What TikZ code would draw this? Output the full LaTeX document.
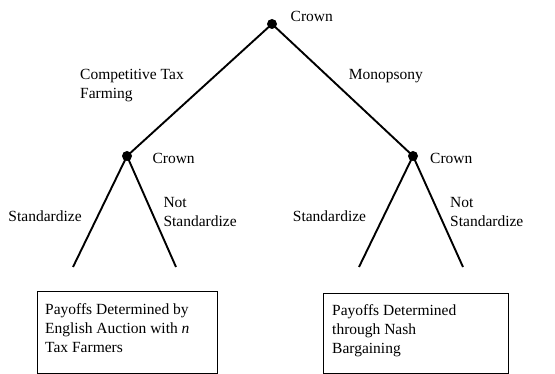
\documentclass[tikz,border=0pt]{standalone}
\usepackage{fontspec}
\setmainfont{Liberation Serif}
\begin{document}
\begin{tikzpicture}[x=1pt,y=-1pt,
  every node/.style={font=\fontsize{15.5}{19}\selectfont},
  dotnode/.style={circle,fill=black,draw=none,minimum size=10pt,inner sep=0pt},
  branch/.style={line width=1.9pt,black},
  lbl/.style={anchor=base west,inner sep=0pt,align=left},
  payoff/.style={draw,line width=0.8pt,inner sep=0pt,anchor=north west},
  ptext/.style={anchor=base west,inner sep=0pt,align=left}]
\useasboundingbox (0,0) rectangle (555,374);
% decision nodes
\node[dotnode] (root) at (272,24) {};
\node[dotnode] (left) at (127,156) {};
\node[dotnode] (right) at (413,156) {};
% leg ends
\coordinate (ll) at (73,267);
\coordinate (lr) at (176,267);
\coordinate (rl) at (359,267);
\coordinate (rr) at (463,267);
% branches
\draw[branch] (root.center) -- (left.center);
\draw[branch] (root.center) -- (right.center);
\draw[branch] (left.center) -- (ll);
\draw[branch] (left.center) -- (lr);
\draw[branch] (right.center) -- (rl);
\draw[branch] (right.center) -- (rr);
% labels (base = baseline of last line)
\node[lbl] (crown0) at (290.5,21.5) {Crown};
\node[lbl] (crownL) at (152.3,163.5) {Crown};
\node[lbl] (crownR) at (430,163.5) {Crown};
\node[lbl] (ctf) at (80,98.5) {Competitive Tax\\Farming};
\node[lbl] (mono) at (348.7,80) {Monopsony};
\node[lbl] (stdL) at (8.3,221.5) {Standardize};
\node[lbl] (nstdL) at (163.3,227) {Not\\Standardize};
\node[lbl] (stdR) at (292.7,221.5) {Standardize};
\node[lbl] (nstdR) at (450,227) {Not\\Standardize};
% payoff boxes
\node[payoff,minimum width=180pt,minimum height=82pt] (boxL) at (37,291) {};
\node[payoff,minimum width=185pt,minimum height=80pt] (boxR) at (323,293) {};
\node[ptext] (payL) at (45,353) {Payoffs Determined by\\English Auction with \textit{n}\\Tax Farmers};
\node[ptext] (payR) at (332,354) {Payoffs Determined\\through Nash\\Bargaining};
\end{tikzpicture}
\end{document}
